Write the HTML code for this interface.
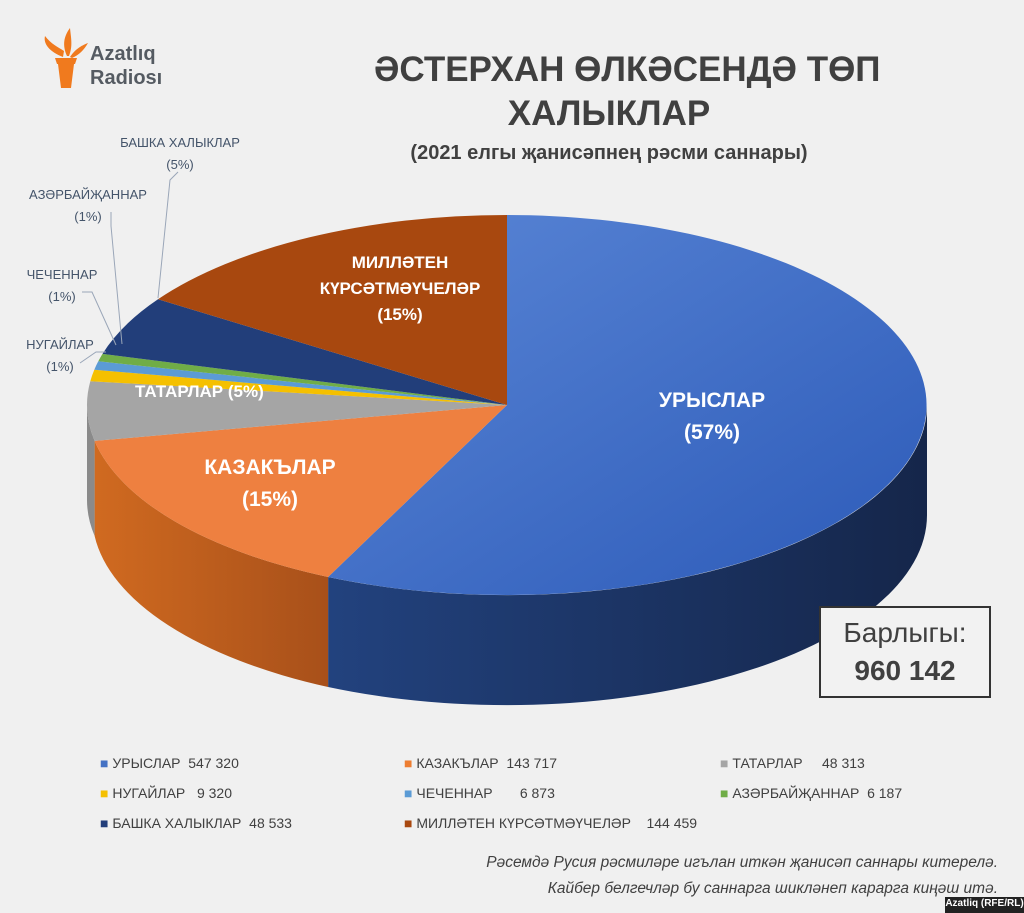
<!DOCTYPE html>
<html><head><meta charset="utf-8"><style>
body{margin:0;width:1024px;height:913px;background:#f0f0f0;font-family:"Liberation Sans","DejaVu Sans",sans-serif;overflow:hidden;position:relative}
.t{position:absolute;white-space:nowrap}
</style></head><body>
<svg width="1024" height="913" style="position:absolute;left:0;top:0">
<defs>
<linearGradient id="gb" x1="0" x2="1"><stop offset="0" stop-color="#22427e"/><stop offset="1" stop-color="#15264a"/></linearGradient>
<linearGradient id="go" x1="0" x2="1"><stop offset="0" stop-color="#d06a20"/><stop offset="1" stop-color="#a8501a"/></linearGradient>
<linearGradient id="gtop" x1="0" y1="0" x2="1" y2="1"><stop offset="0" stop-color="#5a86d6"/><stop offset="1" stop-color="#2c5ab8"/></linearGradient>
</defs>
<g fill="#f07a1e"><path d="M61 88 L71 88 L74 64 L58 64 Z"/><path d="M55 58 L77 58 L75 64 L57 64Z"/><path d="M63 57 C50 52 43 44 45 36 C51 44 58 47 64 51Z"/><path d="M67 56 C62 45 64 36 70 28 C71 38 73 46 69 56Z"/><path d="M70 57 C76 48 83 45 88 43 C84 50 79 55 72 58Z"/></g>
<text x="90" y="60" font-size="20" font-weight="bold" fill="#555b62">Azatlıq</text>
<text x="90" y="84" font-size="20" font-weight="bold" fill="#555b62">Radiosı</text>
<path d="M927 405 A420 190 0 0 1 328.1 577 L328.1 687 A420 190 0 0 0 927 515 Z" fill="url(#gb)"/>
<path d="M328.1 577 A420 190 0 0 1 94.6 440.9 L94.6 535.9 A420 190 0 0 0 328.1 687 Z" fill="url(#go)"/>
<path d="M94.6 440.9 A420 190 0 0 1 87 405 L87 500 A420 190 0 0 0 94.6 535.9 Z" fill="#8a8a8a"/>
<path d="M507 405 L507 215 A420 190 0 1 1 328.1 577 Z" fill="url(#gtop)"/>
<path d="M507 405 L328.1 577 A420 190 0 0 1 94.6 440.9 Z" fill="#ee8040"/>
<path d="M507 405 L94.6 440.9 A420 190 0 0 1 90.3 381.2 Z" fill="#a5a5a5"/>
<path d="M507 405 L90.3 381.2 A420 190 0 0 1 94.3 369.7 Z" fill="#f5c000"/>
<path d="M507 405 L94.3 369.7 A420 190 0 0 1 98.3 361.3 Z" fill="#5b9bd5"/>
<path d="M507 405 L98.3 361.3 A420 190 0 0 1 102.5 353.9 Z" fill="#70ad47"/>
<path d="M507 405 L102.5 353.9 A420 190 0 0 1 158 299.3 Z" fill="#223e7a"/>
<path d="M507 405 L158 299.3 A420 190 0 0 1 507 215 Z" fill="#a8480f"/>
<g stroke="#9aa6b8" fill="none" stroke-width="1">
<polyline points="80,363 96,352 106,352"/>
<polyline points="82,292 92,292 116,345"/>
<polyline points="111,212 111,226 122,344"/>
<polyline points="178,172 170,180 158,298"/>
</g>
<rect x="820" y="607" width="170" height="90" fill="#f2f2f2" stroke="#333" stroke-width="2"/>
<rect x="945" y="897" width="79" height="16" fill="#222"/>
</svg>
<div class="t" style="left:374px;top:48px;width:470px;text-align:center;font-size:35px;font-weight:bold;color:#404040;line-height:44px">ӘСТЕРХАН ӨЛКӘСЕНДӘ ТӨП<br>ХАЛЫКЛАР</div>
<div class="t" style="left:374px;top:142px;width:470px;text-align:center;font-size:20px;font-weight:bold;color:#404040">(2021 елгы җанисәпнең рәсми саннары)</div>
<div class="t" style="left:100px;top:132px;width:160px;text-align:center;font-size:13px;color:#44546a;line-height:22px">БАШКА ХАЛЫКЛАР<br>(5%)</div>
<div class="t" style="left:8px;top:184px;width:160px;text-align:center;font-size:13px;color:#44546a;line-height:22px">АЗӘРБАЙҖАННАР<br>(1%)</div>
<div class="t" style="left:12px;top:264px;width:100px;text-align:center;font-size:13px;color:#44546a;line-height:22px">ЧЕЧЕННАР<br>(1%)</div>
<div class="t" style="left:10px;top:334px;width:100px;text-align:center;font-size:13px;color:#44546a;line-height:22px">НУГАЙЛАР<br>(1%)</div>
<div class="t" style="left:300px;top:250px;width:200px;text-align:center;font-size:17px;font-weight:bold;color:#fff;line-height:26px">МИЛЛӘТЕН<br>КҮРСӘТМӘҮЧЕЛӘР<br>(15%)</div>
<div class="t" style="left:612px;top:385px;width:200px;text-align:center;font-size:21px;font-weight:bold;color:#fff;line-height:32px">УРЫСЛАР<br>(57%)</div>
<div class="t" style="left:170px;top:452px;width:200px;text-align:center;font-size:21px;font-weight:bold;color:#fff;line-height:32px">КАЗАКЪЛАР<br>(15%)</div>
<div class="t" style="left:135px;top:382px;font-size:17px;font-weight:bold;color:#fff">ТАТАРЛАР (5%)</div>
<div class="t" style="left:820px;top:614px;width:170px;text-align:center;font-size:28px;color:#404040;line-height:38px">Барлыгы:<br><b>960 142</b></div>
<div class="t" style="left:100px;top:748px;font-size:14px;color:#404040;line-height:30px">
<div style="position:absolute;left:0;top:0"><span style="color:#4472c4">■</span> УРЫСЛАР&nbsp; 547 320</div>
<div style="position:absolute;left:0;top:30px"><span style="color:#f5c000">■</span> НУГАЙЛАР &nbsp; 9 320</div>
<div style="position:absolute;left:0;top:60px"><span style="color:#223e7a">■</span> БАШКА ХАЛЫКЛАР&nbsp; 48 533</div>
<div style="position:absolute;left:304px;top:0"><span style="color:#ed7d31">■</span> КАЗАКЪЛАР&nbsp; 143 717</div>
<div style="position:absolute;left:304px;top:30px"><span style="color:#5b9bd5">■</span> ЧЕЧЕННАР &nbsp; &nbsp; &nbsp; 6 873</div>
<div style="position:absolute;left:304px;top:60px"><span style="color:#a8480f">■</span> МИЛЛӘТЕН КҮРСӘТМӘҮЧЕЛӘР&nbsp; &nbsp; 144 459</div>
<div style="position:absolute;left:620px;top:0"><span style="color:#a5a5a5">■</span> ТАТАРЛАР &nbsp; &nbsp; 48 313</div>
<div style="position:absolute;left:620px;top:30px"><span style="color:#70ad47">■</span> АЗӘРБАЙҖАННАР&nbsp; 6 187</div>
</div>
<div class="t" style="right:26px;top:850px;text-align:right;font-size:15.5px;font-style:italic;color:#404040;line-height:26px">Рәсемдә Русия рәсмиләре игълан иткән җанисәп саннары китерелә.<br>Кайбер белгечләр бу саннарга шикләнеп карарга киңәш итә.</div>
<div class="t" style="left:945px;top:898px;width:79px;text-align:center;font-size:10px;font-weight:bold;color:#fff">Azatliq (RFE/RL)</div>
</body></html>
